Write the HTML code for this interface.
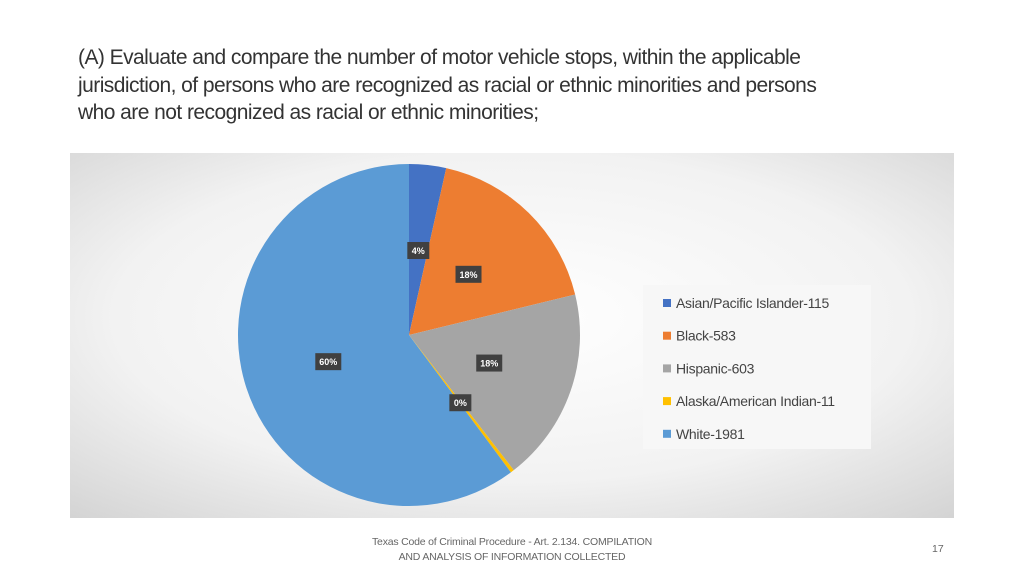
<!DOCTYPE html>
<html><head><meta charset="utf-8"><style>
body{margin:0;width:1024px;height:576px;background:#fff;position:relative;overflow:hidden;font-family:"Liberation Sans",sans-serif}
#title{position:absolute;left:78px;top:44px;width:940px;font-size:21px;line-height:27.5px;color:#333;letter-spacing:-0.55px;white-space:nowrap}
#foot{position:absolute;left:300px;top:535px;width:424px;text-align:center;font-size:10.5px;line-height:15px;color:#666;letter-spacing:-0.2px;white-space:nowrap}
#pg{position:absolute;left:932px;top:543px;font-size:10.5px;color:#666}
</style></head><body>
<div id="title">(A) Evaluate and compare the number of motor vehicle stops, within the applicable<br>jurisdiction, of persons who are recognized as racial or ethnic minorities and persons<br>who are not recognized as racial or ethnic minorities;</div>
<svg id="chart" style="position:absolute;left:0;top:0" width="1024" height="576">
<defs><radialGradient id="bg" cx="0.5" cy="0.45" r="0.75"><stop offset="0" stop-color="#ffffff"/><stop offset="0.6" stop-color="#f2f2f2"/><stop offset="1" stop-color="#d3d3d3"/></radialGradient></defs>
<rect x="70" y="153" width="884" height="365" fill="url(#bg)"/>
<g id="slices"></g><g id="labels"></g><g id="legend"></g>
</svg>
<div id="foot">Texas Code of Criminal Procedure - Art. 2.134. COMPILATION<br>AND ANALYSIS OF INFORMATION COLLECTED</div>
<div id="pg">17</div>
<script>
const categories=["Asian/Pacific Islander","Black","Hispanic","Alaska/American Indian","White"];
const values=[115,583,603,11,1981];
const pctLabels=["4%","18%","18%","0%","60%"];
const colors=["#4472c4","#ed7d31","#a5a5a5","#ffc000","#5b9bd5"];
const NS="http://www.w3.org/2000/svg";
const cx=409,cy=335,R=171,LR=85;
const total=values.reduce((a,b)=>a+b,0);
const sl=document.getElementById('slices'),lb=document.getElementById('labels'),lg=document.getElementById('legend');
function pt(a,r){return [cx+r*Math.sin(a),cy-r*Math.cos(a)];}
let a0=0;
values.forEach((v,i)=>{
 const a1=a0+v/total*2*Math.PI;
 const p0=pt(a0,R),p1=pt(a1,R);
 const p=document.createElementNS(NS,'path');
 p.setAttribute('d',`M${cx},${cy}L${p0[0]},${p0[1]}A${R},${R} 0 ${a1-a0>Math.PI?1:0} 1 ${p1[0]},${p1[1]}Z`);
 p.setAttribute('fill',colors[i]);
 
 
 sl.appendChild(p);
 const m=pt((a0+a1)/2,LR);
 const pct=pctLabels[i]!==undefined?pctLabels[i]:Math.round(v/total*100)+'%';
 const w=pct.length>2?26:22;
 const g=document.createElementNS(NS,'g');
 
 
 g.innerHTML=`<rect x="${m[0]-w/2}" y="${m[1]-8.5}" width="${w}" height="17" fill="#404040"/><text x="${m[0]}" y="${m[1]+3.5}" text-anchor="middle" font-size="9" font-weight="bold" fill="#fff" font-family="Liberation Sans">${pct}</text>`;
 lb.appendChild(g);
 a0=a1;
});
const lbox=document.createElementNS(NS,'rect');
lbox.setAttribute('x',643);lbox.setAttribute('y',285);lbox.setAttribute('width',228);lbox.setAttribute('height',164);lbox.setAttribute('fill','#f7f7f7');


lg.appendChild(lbox);
categories.forEach((c,i)=>{
 const y=303+i*32.7;
 const g=document.createElementNS(NS,'g');
 
 
 g.innerHTML=`<rect x="663" y="${y-4}" width="8" height="8" fill="${colors[i]}"/><text x="676" y="${y+5}" font-size="14" fill="#444" font-family="Liberation Sans" letter-spacing="-0.3">${c}-${values[i]}</text>`;
 lg.appendChild(g);
});
</script>
</body></html>
